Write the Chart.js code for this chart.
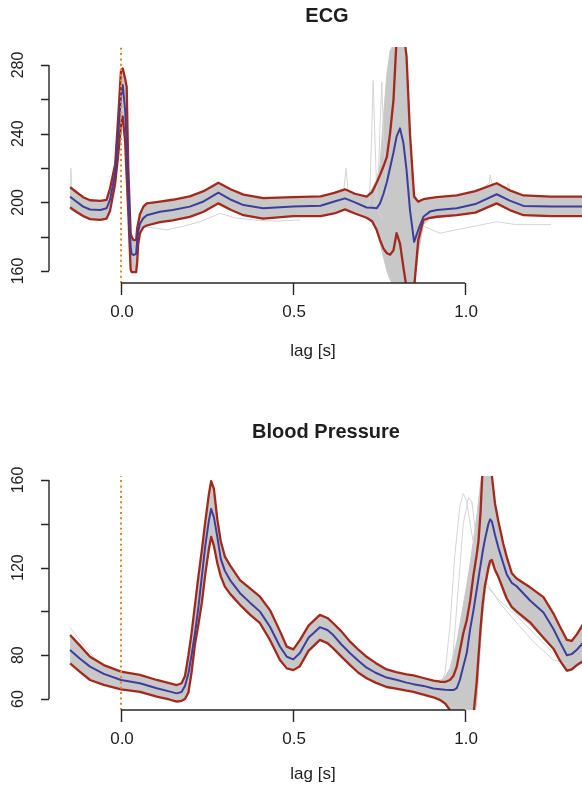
<!DOCTYPE html>
<html>
<head>
<meta charset="utf-8">
<script src="https://cdn.jsdelivr.net/npm/chart.js@4/dist/chart.umd.min.js"></script>
<style>
  html, body { margin: 0; padding: 0; background: #ffffff; }
  #wrap { position: relative; width: 582px; height: 789px; overflow: hidden; }
  canvas { position: absolute; left: 0; }
  #ecg { top: 0; }
  #bp { top: 395px; }
</style>
</head>
<body>
<div id="wrap">
  <canvas id="ecg" width="582" height="395"></canvas>
  <canvas id="bp" width="582" height="394"></canvas>
</div>
<script>
// ---------- ECG: lag grid, mean, quantile band and spread of single beats ----------
const ecgLag = [-0.148, -0.13, -0.11, -0.09, -0.06, -0.042, -0.032, -0.017, -0.008, 0.0,
  0.005, 0.012, 0.0165, 0.021, 0.028, 0.031, 0.036, 0.044, 0.047, 0.05,
  0.055, 0.065, 0.075, 0.113, 0.15, 0.2, 0.24, 0.283, 0.32, 0.356,
  0.413, 0.5, 0.58, 0.62, 0.651, 0.68, 0.714, 0.73, 0.743, 0.753,
  0.763, 0.773, 0.782, 0.792, 0.801, 0.811, 0.821, 0.83, 0.84, 0.852,
  0.864, 0.879, 0.898, 0.918, 0.976, 1.03, 1.092, 1.13, 1.17, 1.25, 1.35];
const ecgMean = [203.3, 200.5, 197.5, 195.8, 195.5, 196.5, 201.4, 216.9, 240.2, 262,
  268.3, 253.8, 235, 209, 174, 170, 169.3, 170, 178, 183,
  187.5, 190.8, 192.5, 194.5, 195.5, 197.5, 200.5, 205.6, 201.5, 198.4,
  196.5, 197.5, 198, 200.5, 202.3, 200, 197, 196.8, 196.5, 199.4,
  205, 212, 220, 229, 238.3, 243.1, 234.4, 218.8, 195.5, 177,
  183.9, 191.6, 194.6, 195.5, 196.5, 199, 204.7, 201, 197.9, 197.6, 197.6];
const ecgUpper = [208.8, 206, 203, 201.2, 200.8, 201.4, 208, 222, 250, 277,
  278, 272, 267.4, 220.8, 182, 180, 178, 178, 184.9, 188,
  193, 197.5, 199.4, 200.4, 201.5, 203.5, 206.5, 211.4, 207.5, 204.5,
  202.5, 203, 203.5, 205.5, 207.6, 205, 203.3, 206, 211.4, 216,
  221, 226.6, 240, 259.6, 295, 300, 300, 285, 240, 203.3,
  200.4, 201.8, 202.5, 203, 204, 206.5, 211.1, 207, 204, 203.3, 203.3];
const ecgLower = [197.1, 194.5, 192, 190.2, 189.8, 190.5, 195, 211, 228, 245,
  250, 235, 215, 195, 161, 159.3, 159.3, 159.3, 165, 176,
  182, 185.5, 186.5, 188.5, 189.5, 191.5, 194.5, 199.4, 195.5, 192.5,
  190.5, 192, 192, 193.5, 195.9, 193.5, 191, 189, 184, 178,
  173, 170.3, 169.5, 172, 182, 176, 162, 150, 150, 150,
  178, 189.7, 191, 191.6, 192.5, 194, 199.4, 195.5, 192.5, 192, 192];
const ecgSpreadHi = [208, 205.5, 202.5, 200.5, 200, 201, 207, 221.5, 249, 276,
  277, 271, 266, 220, 181, 179, 177, 177, 184, 187.5,
  192.5, 197, 199, 200, 201, 203, 206, 211, 207, 204,
  202, 202.5, 203, 205, 207, 204.5, 203, 208, 213, 222,
  250, 275, 288, 292, 292, 292, 292, 280, 238, 205,
  200.5, 201.5, 202, 202.5, 203.5, 206, 210.5, 206.5, 203.5, 203, 203];
const ecgSpreadLo = [196, 194, 191.5, 190, 190, 191, 195.5, 211, 229, 246,
  251, 236, 216, 196, 162, 160, 160, 160, 166, 176,
  182, 185.5, 186.5, 188.5, 189.5, 191.5, 194.5, 199.5, 195.5, 192.5,
  190.5, 192, 192.5, 194, 196, 194, 191, 188, 183, 176,
  168, 160, 155, 152, 150, 150, 150, 150, 150, 150,
  170, 187, 190.5, 191, 192.5, 194, 199.5, 195.5, 192.5, 192, 192];

// single ECG beats that leave the band
const ecgBeatA = { lag: [0.048, 0.058, 0.065, 0.1, 0.133, 0.18, 0.23, 0.288, 0.33, 0.385, 0.45, 0.52],
                   val: [172, 182, 185.8, 185, 184, 186, 188.7, 193.6, 191, 189.7, 189, 189.7] };
const ecgBeatB = { lag: [0.70, 0.722, 0.728, 0.733, 0.738, 0.745, 0.76],
                   val: [197, 199, 235, 271, 238, 196, 190] };
const ecgBeatC = { lag: [0.735, 0.748, 0.754, 0.758, 0.763, 0.772],
                   val: [198, 215, 250, 270, 240, 205] };
const ecgBeatD = { lag: [-0.148, -0.146, -0.144, -0.141, -0.13],
                   val: [206, 220, 212, 205, 204] };
const ecgBeatE = { lag: [0.62, 0.648, 0.654, 0.66, 0.69],
                   val: [205.5, 207.5, 219.8, 207, 204] };
const ecgBeatF = { lag: [1.05, 1.07, 1.073, 1.078, 1.1, 1.12, 1.126, 1.132, 1.15],
                   val: [208, 211, 216, 211, 210, 208, 211, 206, 205] };
const ecgBeatG = { lag: [0.88, 0.927, 1.0, 1.092, 1.15, 1.25],
                   val: [186, 182, 185, 188.7, 187, 187] };

// ---------- Blood pressure ----------
const bpLag = [-0.148, -0.12, -0.09, -0.05, 0.0, 0.055, 0.104, 0.14, 0.162, 0.176,
  0.186, 0.196, 0.205, 0.215, 0.225, 0.235, 0.245, 0.255, 0.262, 0.27,
  0.28, 0.29, 0.302, 0.317, 0.346, 0.375, 0.404, 0.433, 0.462, 0.482,
  0.501, 0.52, 0.545, 0.578, 0.60, 0.617, 0.64, 0.666, 0.69, 0.714,
  0.74, 0.772, 0.80, 0.83, 0.85, 0.879, 0.908, 0.927, 0.942, 0.956,
  0.966, 0.976, 0.985, 0.995, 1.005, 1.015, 1.024, 1.034, 1.039, 1.045,
  1.051, 1.058, 1.063, 1.068, 1.073, 1.078, 1.087, 1.097, 1.111, 1.121,
  1.136, 1.15, 1.189, 1.228, 1.257, 1.276, 1.296, 1.31, 1.325, 1.345];
const bpMean = [82.4, 78.5, 74.8, 71.5, 68.7, 67.2, 64.9, 63.5, 62.6, 63.2,
  66, 71.7, 80, 90, 102, 116, 130, 141, 146.8, 143,
  134, 124, 118.5, 114.3, 108.3, 104, 99.9, 93, 84, 79.3,
  78.1, 81, 88, 92.8, 91.5, 89.2, 85, 80.9, 77.5, 74.3,
  72, 69.8, 68.8, 67.5, 66.8, 66, 64.8, 64.5, 64.2, 64.1,
  64.1, 65, 68.7, 75, 81, 92, 100, 110, 115, 121,
  127, 133, 136.5, 140, 142, 141, 135, 129, 122, 117,
  113, 111.5, 105, 99.5, 92, 86, 80, 80.5, 82.5, 86];
const bpUpper = [89.2, 84.5, 79.3, 75.5, 72.5, 71, 68.7, 67.3, 66.4, 67.2,
  70.5, 80, 90, 103, 116, 128, 141, 153, 159.5, 156,
  142, 132, 125, 121, 114.3, 110.5, 106.7, 100.6, 91, 83.9,
  82.7, 86.9, 93.5, 98.4, 97, 94.6, 91, 86.2, 82.5, 79.3,
  76.5, 73.5, 72.3, 71.3, 70.8, 69.6, 68.4, 67.9, 67.8, 68.7,
  70.5, 74.8, 82, 90, 96, 105, 116, 126, 132, 145,
  165, 170, 170, 170, 168, 162, 149.4, 141, 131, 125,
  117.4, 115, 111, 106.5, 99, 93, 87, 86.5, 89.5, 94.6];
const bpLower = [76.3, 72.5, 68.7, 66.5, 64.4, 63.3, 61.1, 59.8, 58.8, 59.2,
  60, 63, 72, 85, 94, 104, 117, 128, 134, 130,
  122, 116, 111.3, 108, 103, 98.5, 94.6, 87, 77.8, 74,
  73.2, 75, 82, 87, 85.5, 83.1, 79.5, 75.5, 72, 69.5,
  67.5, 65.5, 64.8, 63.8, 63.3, 62, 60.8, 59.6, 58, 55,
  50, 48, 48, 48, 48, 48, 52, 68, 79.3, 92,
  103, 112, 115.8, 120, 123, 123.5, 119, 115.8, 110, 106,
  102, 100, 95, 88, 83, 77.5, 73, 73.5, 75.5, 77.5];
const bpSpreadHi = [88.5, 84, 79, 75, 72, 70.5, 68.3, 67, 66, 67,
  70, 79.5, 89.5, 102.5, 115.5, 127.5, 140.5, 152.5, 159, 155.5,
  141.5, 131.5, 124.5, 120.5, 114, 110, 106.2, 100, 90.5, 83.5,
  82.3, 86.5, 93, 98, 96.5, 94.2, 90.5, 85.8, 82, 79,
  76.2, 73.2, 72, 71, 70.5, 69.5, 68.5, 68.5, 70, 74,
  80, 86, 94, 103, 112, 122, 132, 143, 150, 158,
  165, 170, 170, 170, 168, 162, 149, 140.5, 130.5, 124.5,
  117, 114.8, 110.8, 106.2, 98.7, 92.7, 86.7, 86.2, 89.2, 94.3];
const bpSpreadLo = [77, 73, 69, 67, 65, 63.5, 61.5, 60, 59.2, 59.5,
  60.5, 63.5, 72.5, 86, 94.5, 104.5, 117.5, 128.5, 134.5, 130.5,
  122.5, 116.5, 111.8, 108.5, 103.5, 99, 95, 87.5, 78.3, 74.5,
  73.7, 75.5, 82.5, 87.5, 86, 83.6, 80, 76, 72.5, 70,
  68, 66, 65.2, 64.2, 63.6, 62.3, 61, 60, 58.5, 55,
  50, 48, 48, 48, 48, 48, 50, 58, 70, 85,
  98, 108, 113, 118, 121, 122, 118, 115, 109, 105,
  101, 99, 94, 87.5, 82.5, 77, 72.5, 73, 75, 77];

// single pressure beats that leave the band
const bpBeatA = { lag: [-0.148, -0.12, -0.09, -0.06], val: [92.7, 87, 81, 76] };
const bpBeatB = { lag: [0.93, 0.942, 0.956, 0.97, 0.985, 0.995, 1.005, 1.02, 1.04, 1.063, 1.1, 1.16, 1.2, 1.257, 1.3],
                  val: [66, 72, 93, 125, 148, 153.9, 150, 135, 120, 113, 104, 93, 86, 77.8, 76] };
const bpBeatC = { lag: [0.95, 0.965, 0.98, 0.995, 1.01, 1.02, 1.035, 1.06, 1.1, 1.15, 1.2, 1.25],
                  val: [66, 80, 110, 140, 152, 150, 130, 112, 105, 98, 90, 82] };

// ---------- axes ----------
const lagTicks = [0, 0.5, 1.0];
const lagTickLabels = ['0.0', '0.5', '1.0'];
const ecgYTicks = [160, 180, 200, 220, 240, 260, 280];
const ecgYLabels = [160, 200, 240, 280];
const bpYTicks = [60, 80, 100, 120, 140, 160];
const bpYLabels = [60, 80, 120, 160];
const markLag = 0;

const COL = {
  spread: '#c8c8c8',
  beat: '#d4d4d4',
  band: '#a3291d',
  mean: '#3d3d9e',
  mark: '#ef8126',
  axis: '#262626',
  text: '#1e1e1e'
};
const FONT = '"Liberation Sans", Arial, Helvetica, sans-serif';

function pts(lags, vals) { return lags.map((t, i) => ({ x: t, y: vals[i] })); }

function rAxes(p) {
  return {
    id: 'rAxes',
    afterDraw(chart) {
      const { ctx, chartArea: a, scales: { x, y } } = chart;
      ctx.save();
      ctx.strokeStyle = COL.axis;
      ctx.lineWidth = 1.4;
      ctx.beginPath();
      const yTop = y.getPixelForValue(p.yTicks[p.yTicks.length - 1]);
      const yBot = y.getPixelForValue(p.yTicks[0]);
      ctx.moveTo(a.left, yBot); ctx.lineTo(a.left, yTop);
      p.yTicks.forEach(v => {
        const py = Math.round(y.getPixelForValue(v)) + 0.5;
        ctx.moveTo(a.left, py); ctx.lineTo(a.left - 8, py);
      });
      const xa = x.getPixelForValue(lagTicks[0]);
      const xb = x.getPixelForValue(lagTicks[lagTicks.length - 1]);
      ctx.moveTo(xa, a.bottom); ctx.lineTo(xb, a.bottom);
      lagTicks.forEach(v => {
        const px = Math.round(x.getPixelForValue(v)) + 0.5;
        ctx.moveTo(px, a.bottom); ctx.lineTo(px, a.bottom + 12);
      });
      ctx.stroke();

      ctx.fillStyle = COL.text;
      ctx.textAlign = 'center';
      ctx.textBaseline = 'middle';
      ctx.font = '17px ' + FONT;
      lagTicks.forEach((v, i) => ctx.fillText(lagTickLabels[i], x.getPixelForValue(v) + 1, a.bottom + p.xLabelGap));
      ctx.fillText('lag [s]', p.xTitleX, a.bottom + p.xTitleGap);
      ctx.font = '16px ' + FONT;
      p.yLabels.forEach(v => {
        ctx.save();
        ctx.translate(18.5, y.getPixelForValue(v));
        ctx.rotate(-Math.PI / 2);
        ctx.fillText(String(v), 0, 0);
        ctx.restore();
      });
      ctx.font = 'bold 20px ' + FONT;
      ctx.fillText(p.title, p.titleX, p.titleY);
      ctx.restore();
    }
  };
}

function beatSet(b) {
  return { data: pts(b.lag, b.val), borderColor: COL.beat, borderWidth: 1, fill: false, order: 9 };
}

function panel(id, p) {
  const datasets = [
    { data: pts(p.lag, p.spreadHi), borderColor: COL.spread, borderWidth: 1, backgroundColor: COL.spread, fill: '+1', order: 10 },
    { data: pts(p.lag, p.spreadLo), borderColor: COL.spread, borderWidth: 1, fill: false, order: 10 },
    ...p.beats.map(beatSet),
    { data: pts(p.lag, p.upper), borderColor: COL.band, borderWidth: 2.3, fill: false, order: 4 },
    { data: pts(p.lag, p.lower), borderColor: COL.band, borderWidth: 2.3, fill: false, order: 4 },
    { data: pts(p.lag, p.mean), borderColor: COL.mean, borderWidth: 2, fill: false, order: 3 },
    { data: [{ x: markLag, y: p.yMin }, { x: markLag, y: p.yMax }], borderColor: COL.mark,
      borderWidth: 2, borderDash: [2, 3.3], fill: false, order: 1 }
  ];
  return new Chart(document.getElementById(id), {
    type: 'line',
    data: { datasets },
    options: {
      responsive: false,
      animation: false,
      devicePixelRatio: 1,
      events: [],
      layout: { padding: p.pad },
      elements: { point: { radius: 0 }, line: { tension: 0, borderJoinStyle: 'round' } },
      plugins: { legend: { display: false }, tooltip: { enabled: false }, title: { display: false } },
      scales: {
        x: { type: 'linear', min: -0.2093, max: 1.34, display: false },
        y: { type: 'linear', min: p.yMin, max: p.yMax, display: false }
      }
    },
    plugins: [rAxes(p)]
  });
}

panel('ecg', {
  lag: ecgLag, mean: ecgMean, upper: ecgUpper, lower: ecgLower,
  spreadHi: ecgSpreadHi, spreadLo: ecgSpreadLo,
  beats: [ecgBeatA, ecgBeatB, ecgBeatC, ecgBeatD, ecgBeatE, ecgBeatF, ecgBeatG],
  yMin: 153.0, yMax: 290.5, yTicks: ecgYTicks, yLabels: ecgYLabels,
  pad: { left: 49, right: 0, top: 47, bottom: 112 },
  title: 'ECG', titleX: 327, titleY: 16,
  xLabelGap: 29, xTitleX: 313, xTitleGap: 68
});

panel('bp', {
  lag: bpLag, mean: bpMean, upper: bpUpper, lower: bpLower,
  spreadHi: bpSpreadHi, spreadLo: bpSpreadLo,
  beats: [bpBeatA, bpBeatB, bpBeatC],
  yMin: 55.0, yMax: 161.8, yTicks: bpYTicks, yLabels: bpYLabels,
  pad: { left: 49, right: 0, top: 81, bottom: 79 },
  title: 'Blood Pressure', titleX: 326, titleY: 37,
  xLabelGap: 29, xTitleX: 313, xTitleGap: 64
});
</script>
</body>
</html>
